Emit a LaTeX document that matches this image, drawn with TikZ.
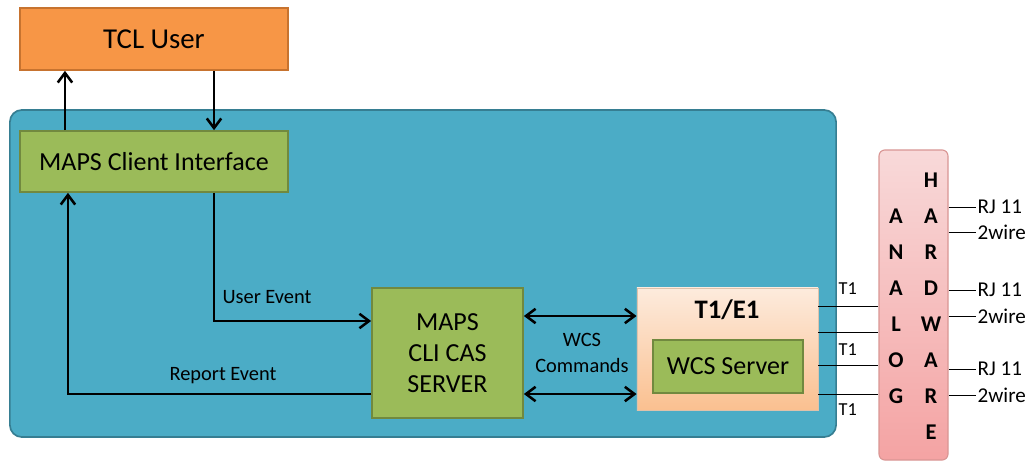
\documentclass[tikz,border=0pt]{standalone}
\usepackage{fontspec}
\setmainfont{Carlito}
\usepackage{tikz}
\usetikzlibrary{arrows.meta,positioning,calc}

\definecolor{tclorange}{HTML}{F79646}
\definecolor{tclborder}{HTML}{C7732F}
\definecolor{panelblue}{HTML}{4BACC6}
\definecolor{panelborder}{HTML}{367E92}
\definecolor{mapsgreen}{HTML}{9BBB59}
\definecolor{greenborder}{HTML}{71893F}
\definecolor{peachtop}{HTML}{FDEBDD}
\definecolor{peachbot}{HTML}{FAC090}
\definecolor{pinktop}{HTML}{F8D9D9}
\definecolor{pinkbot}{HTML}{F4A3A3}
\definecolor{pinkborder}{HTML}{D99694}

\begin{document}
\begin{tikzpicture}[x=0.025cm, y=-0.025cm,
  greenbox/.style={draw=greenborder, line width=1.2pt, fill=mapsgreen, font=\fontsize{18.5}{22}\selectfont, align=center},
  arr/.style={line width=1.8pt, -{Straight Barb[length=2.4mm,width=3.6mm]}},
  darr/.style={line width=1.8pt, {Straight Barb[length=2.4mm,width=3.6mm]}-{Straight Barb[length=2.4mm,width=3.6mm]}},
  evlabel/.style={font=\fontsize{14.5}{17}\selectfont, align=center},
  letter/.style={font=\bfseries\fontsize{16}{18}\selectfont},
  wirelabel/.style={font=\fontsize{15}{17}\selectfont, anchor=west, inner sep=1pt}]
  \useasboundingbox (0,0) rectangle (1033,462);

  % boxes
  \node[draw=tclborder, line width=1.2pt, fill=tclorange, minimum width=6.7cm, minimum height=1.55cm,
        font=\fontsize{20.5}{24}\selectfont] (tcl) at (154,39) {TCL User};
  \node[draw=panelborder, line width=1.2pt, fill=panelblue, rounded corners=0.3cm,
        minimum width=20.65cm, minimum height=8.175cm] (panel) at (423,273.5) {};
  \node[greenbox, minimum width=6.7cm, minimum height=1.525cm] (mci) at (154,161.5) {MAPS Client Interface};
  \node[greenbox, minimum width=3.775cm, minimum height=3.25cm] (cas) at (447.5,353) {MAPS\\CLI CAS\\SERVER};
  \node[draw=peachbot!80!black!60, line width=0.6pt, top color=peachtop, bottom color=peachbot,
        minimum width=4.525cm, minimum height=3.05cm] (t1e1) at (727.5,349) {};
  \node[font=\bfseries\fontsize{19}{22}\selectfont] (t1e1title) at (727,310) {T1/E1};
  \node[greenbox, minimum width=3.75cm, minimum height=1.325cm] (wcs) at (728,366.5) {WCS Server};
  \node[draw=pinkborder, line width=0.8pt, top color=pinktop, bottom color=pinkbot, rounded corners=0.15cm,
        minimum width=1.725cm, minimum height=7.75cm] (hw) at (913.5,305) {};

  % letters
  \foreach \ch [count=\i] in {A,N,A,L,O,G}
    \node[letter] (an\i) at (896,180+36*\i) {\ch};
  \foreach \ch [count=\i] in {H,A,R,D,W,A,R,E}
    \node[letter] (hw\i) at (931,144+36*\i) {\ch};

  % user links
  \draw[arr] ([xshift=-2.225cm]mci.north) -- ([xshift=-2.225cm]tcl.south);
  \draw[arr] ([xshift=1.5cm]tcl.south) -- ([xshift=1.5cm]mci.north);

  % events
  \draw[arr] ([xshift=1.5cm]mci.south) |- ([yshift=0.8cm]cas.west);
  \node[evlabel] (uev) at (267,297) {User Event};
  \draw[arr] ([yshift=-1.025cm]cas.west) -| ([xshift=-2.15cm]mci.south);
  \node[evlabel] (rev) at (223,376) {Report Event};

  % wcs commands
  \draw[darr] ([yshift=0.925cm]cas.east) -- ([yshift=0.925cm]cas.east -| t1e1.west);
  \draw[darr] ([yshift=-1.025cm]cas.east) -- ([yshift=-1.025cm]cas.east -| t1e1.west);
  \node[evlabel, font=\fontsize{14.5}{19}\selectfont] (wcsc) at (582,353) {WCS\\Commands};

  % T1 trunks
  \foreach \yy in {306,332,365,394}
    \draw[line width=0.7pt] (t1e1.east |- 0,\yy) -- (hw.west |- 0,\yy);
  \foreach \yy [count=\i] in {289,350,410}
    \node[wirelabel, font=\fontsize{13}{15}\selectfont] (t1lbl\i) at (837,\yy) {T1};

  % analog wires
  \foreach \yy/\txt [count=\i] in {207/RJ 11,232/2wire,290/RJ 11,316/2wire,369/RJ 11,395/2wire}{
    \node[wirelabel] (wire\i) at (976,\yy) {\txt};
    \draw[line width=0.7pt] (hw.east |- wire\i.west) -- (wire\i.west);
  }
\end{tikzpicture}
\end{document}
